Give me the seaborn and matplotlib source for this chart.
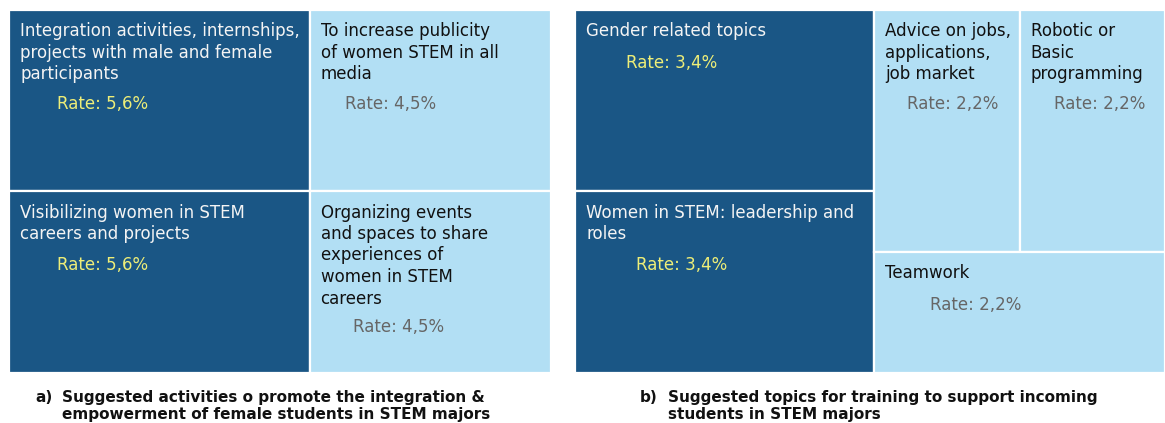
import numpy as np
import pandas as pd
import seaborn as sns
import matplotlib.pyplot as plt
from matplotlib.patches import Rectangle

# panel a) suggested activities
a_labels = ["Integration activities, internships,\nprojects with male and female\nparticipants",
            "Visibilizing women in STEM\ncareers and projects",
            "To increase publicity\nof women STEM in all\nmedia",
            "Organizing events\nand spaces to share\nexperiences of\nwomen in STEM\ncareers"]
a_rates = [5.6, 5.6, 4.5, 4.5]
a_caption = ("a)", "Suggested activities o promote the integration &\nempowerment of female students in STEM majors")

# panel b) suggested topics
b_labels = ["Gender related topics",
            "Women in STEM: leadership and\nroles",
            "Advice on jobs,\napplications,\njob market",
            "Robotic or\nBasic\nprogramming",
            "Teamwork"]
b_rates = [3.4, 3.4, 2.2, 2.2, 2.2]
b_caption = ("b)", "Suggested topics for training to support incoming\nstudents in STEM majors")

DARK = "#1a5685"
LIGHT = "#b2dff4"


def squarify(values, x, y, w, h):
    # squarified treemap, y grows downward
    areas = [v * w * h / sum(values) for v in values]
    rects = []

    def worst(row, side):
        s = sum(row)
        return max(max(side * side * r / (s * s), s * s / (side * side * r)) for r in row)

    while areas:
        side = min(w, h)
        row = [areas.pop(0)]
        while areas and worst(row + [areas[0]], side) <= worst(row, side):
            row.append(areas.pop(0))
        s = sum(row)
        if w >= h:
            cw = s / h
            yy = y
            for a in row:
                rects.append((x, yy, cw, a / cw))
                yy += a / cw
            x += cw
            w -= cw
        else:
            rh = s / w
            xx = x
            for a in row:
                rects.append((xx, y, a / rh, rh))
                xx += a / rh
            y += rh
            h -= rh
    return rects


def draw_treemap(ax, labels, rates, box, indents):
    df = pd.DataFrame({"label": labels, "rate": rates})
    top = df["rate"].max()
    rects = squarify(list(df["rate"]), *box)
    for (x, y, w, h), lab, r, ind in zip(rects, df["label"], df["rate"], indents):
        dark = r == top
        ax.add_patch(Rectangle((x, y), w, h, facecolor=DARK if dark else LIGHT,
                               edgecolor="white", linewidth=1.6))
        ax.text(x + 11, y + 12, lab, va="top", ha="left", fontsize=12,
                linespacing=1.25, color="#f4f4f4" if dark else "#111111")
        n = lab.count("\n")
        ax.text(x + ind, y + 22 + n * 20.5 + 31, f"Rate: {r:.1f}%".replace(".", ","),
                va="center", ha="left", fontsize=12,
                color="#eeee78" if dark else "#666666")


sns.set_theme(style="white")
plt.rcParams["font.family"] = ["DejaVu Sans"]

fig = plt.figure(figsize=(11.65, 4.23), dpi=100)
ax = fig.add_axes([0, 0, 1, 1])
ax.set_xlim(0, 1165)
ax.set_ylim(423, 0)
ax.axis("off")

draw_treemap(ax, a_labels, a_rates, (9, 10, 542, 363), [48, 48, 35, 43])
draw_treemap(ax, b_labels, b_rates, (575, 10, 590, 363), [51, 61, 33, 34, 56])

for (tag, body), xt, xb in [(a_caption, 35, 62), (b_caption, 640, 668)]:
    ax.text(xt, 398, tag, va="center", ha="left", fontsize=11, fontweight="bold", color="#111111")
    ax.text(xb, 390, body, va="top", ha="left", fontsize=11, fontweight="bold",
            linespacing=1.2, color="#111111")

fig.savefig("out.png", dpi=100)
